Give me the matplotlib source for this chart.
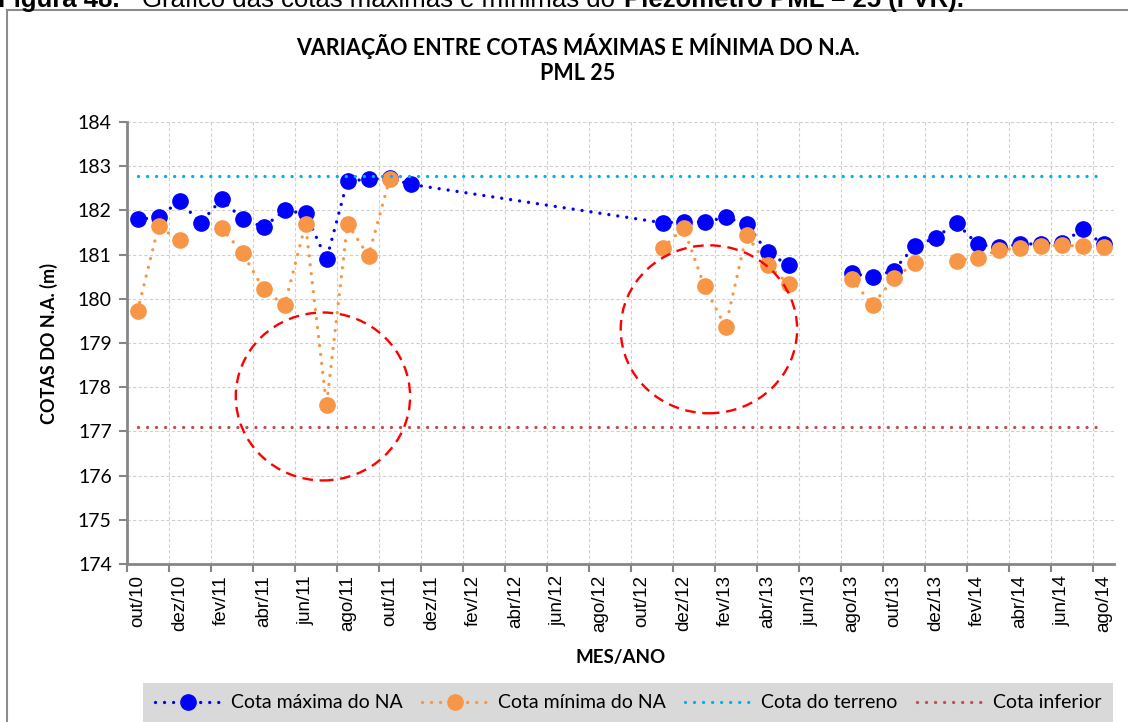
import matplotlib
matplotlib.use('Agg')
import matplotlib.pyplot as plt
from matplotlib.patches import Ellipse, Rectangle
import numpy as np

plt.rcParams['font.family'] = ['Lato', 'DejaVu Sans']

# eixo mensal: out/10 a ago/14
nomes = ['jan', 'fev', 'mar', 'abr', 'mai', 'jun', 'jul', 'ago', 'set', 'out', 'nov', 'dez']
MESES = []
for k in range(47):
    MESES.append(f'{nomes[(9 + k) % 12]}/{10 + (9 + k) // 12}')

# leituras do piezometro PML 25 (nan = sem leitura, linha interrompida)
meses = ['out/10', 'nov/10', 'dez/10', 'jan/11', 'fev/11', 'mar/11', 'abr/11',
         'mai/11', 'jun/11', 'jul/11', 'ago/11', 'set/11', 'out/11', 'nov/11',
         'nov/12', 'dez/12', 'jan/13', 'fev/13', 'mar/13', 'abr/13', 'mai/13',
         'jun/13', 'jul/13', 'ago/13', 'set/13', 'out/13', 'nov/13', 'dez/13',
         'jan/14', 'fev/14', 'mar/14', 'abr/14', 'mai/14', 'jun/14', 'jul/14', 'ago/14']
cota_max = [181.80, 181.84, 182.21, 181.72, 182.25, 181.81, 181.62,
            182.00, 181.93, 180.89, 182.67, 182.70, 182.73, 182.59,
            181.72, 181.74, 181.74, 181.84, 181.70, 181.05, 180.76,
            np.nan, np.nan, 180.58, 180.49, 180.64, 181.19, 181.38,
            181.72, 181.23, 181.17, 181.23, 181.25, 181.26, 181.57, 181.23]
cota_min = [179.72, 181.64, 181.32, np.nan, 181.60, 181.04, 180.22,
            179.85, 181.69, 177.59, 181.70, 180.97, 182.70, np.nan,
            181.14, 181.61, 180.28, 179.36, 181.45, 180.76, 180.34,
            np.nan, np.nan, 180.45, 179.86, 180.46, 180.80, np.nan,
            180.86, 180.93, 181.10, 181.15, 181.20, 181.21, 181.19, 181.17]
cota_terreno = 182.78
cota_inferior = 177.11

x = [MESES.index(m) for m in meses]
x_todos = np.arange(len(MESES))

pontilhado = (0, (0.01, 2.7))

fig = plt.figure(figsize=(11.28, 7.22), dpi=100)
ax = fig.add_axes([127 / 1128, 1 - 564 / 722, 987 / 1128, 442 / 722])

ax.plot(x, cota_max, color='#0000FF', ls=pontilhado, lw=2.4, dash_capstyle='round',
        marker='o', ms=11, zorder=3, label='Cota máxima do NA')
ax.plot(x, cota_min, color='#F79646', ls=pontilhado, lw=2.4, dash_capstyle='round',
        marker='o', ms=11, zorder=4, label='Cota mínima do NA')
ax.plot(x_todos, [cota_terreno] * len(MESES), color='#00B0F0', ls=pontilhado, lw=2.4,
        dash_capstyle='round', zorder=5, label='Cota do terreno')
ax.plot(x_todos, [cota_inferior] * len(MESES), color='#C0504D', ls=pontilhado, lw=2.4,
        dash_capstyle='round', zorder=5, label='Cota inferior')

# destaques das quedas bruscas
for cx, cy, w, h in [(8.83, 177.79, 8.3, 3.8), (27.21, 179.31, 8.4, 3.8)]:
    ax.add_patch(Ellipse((cx, cy), w, h, fill=False, ec='#FF0000', lw=1.7,
                         ls=(0, (4.5, 2.8)), zorder=6))

ax.set_xlim(-0.5, len(MESES) - 0.5)
ax.set_ylim(174, 184)
ax.set_yticks(range(174, 185))
ax.set_xticks(x_todos[::2])
ax.set_xticklabels(MESES[::2], rotation=90, fontsize=13.5, family='Liberation Sans')
ax.set_xticks(np.arange(-0.5, len(MESES), 2), minor=True)
ax.tick_params(axis='x', which='major', length=0, pad=8)
ax.tick_params(axis='x', which='minor', length=6, width=1.5, color='#868686')
ax.tick_params(axis='y', length=6, width=1.5, color='#868686', labelsize=14, pad=5)
ax.grid(axis='y', which='major', color='#d0d0d0', ls=(0, (3, 2)), lw=0.8)
ax.grid(axis='x', which='minor', color='#d0d0d0', ls=(0, (3, 2)), lw=0.8)
ax.set_axisbelow(True)
for s in ['top', 'right']:
    ax.spines[s].set_visible(False)
for s in ['left', 'bottom']:
    ax.spines[s].set_color('#868686')
    ax.spines[s].set_linewidth(2)

ax.set_ylabel('COTAS DO N.A. (m)', fontsize=13, fontweight='bold', labelpad=14)
ax.set_xlabel('MES/ANO', fontsize=13.5, fontweight='bold', labelpad=12)

fig.text(578 / 1128, 1 - 46 / 722, 'VARIAÇÃO ENTRE COTAS MÁXIMAS E MÍNIMA DO N.A.',
         ha='center', va='center', fontsize=15.5, fontweight='bold')
fig.text(578 / 1128, 1 - 73 / 722, 'PML 25', ha='center', va='center',
         fontsize=15.5, fontweight='bold')

# moldura do grafico e legenda
fig.add_artist(Rectangle((7 / 1128, -0.1), 1.2, 1 - 10 / 722 + 0.1,
                         transform=fig.transFigure, fill=False, ec='#8c8c8c', lw=1.5))
leg = fig.legend(loc='center', ncol=4, bbox_to_anchor=(628 / 1128, 1 - 703 / 722),
                 fontsize=14, handlelength=3.4, columnspacing=1.0, handletextpad=0.5,
                 frameon=True, fancybox=False, facecolor='#d9d9d9', edgecolor='none',
                 framealpha=1, borderpad=0.6)

# legenda da figura, no topo da pagina
partes = [('Figura 48.', 'bold', -2), ('Gráfico das cotas máximas e mínimas do ', 'normal', 142),
          ('Piezômetro PML – 25 (FVR).', 'bold', None)]
fig.canvas.draw()
rend = fig.canvas.get_renderer()
x0 = 0
for texto, peso, xpix in partes:
    if xpix is not None:
        x0 = xpix
    t = fig.text(x0 / 1128, 1 - 7 / 722, texto, ha='left', va='baseline',
                 fontsize=18.5, fontweight=peso, family='Liberation Sans')
    x0 = t.get_window_extent(rend).x1 + 2

fig.savefig('out.png', dpi=100)
